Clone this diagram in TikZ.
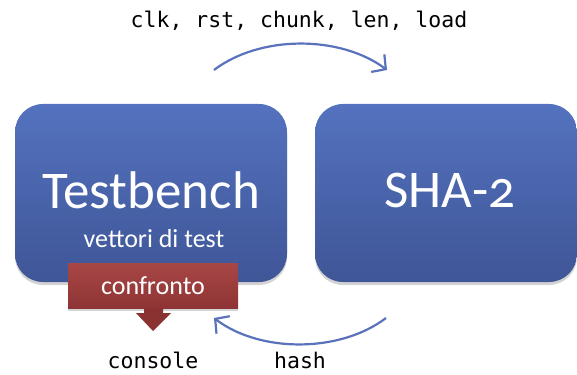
\documentclass[tikz,border=0pt]{standalone}
\usepackage{fontspec}
\setmainfont{Carlito}
\newfontfamily\codefont{DejaVu Sans Mono}
\usetikzlibrary{arrows.meta,shadows}
\definecolor{bluetop}{HTML}{5472BF}
\definecolor{bluebot}{HTML}{3F5697}
\definecolor{redtop}{HTML}{A94646}
\definecolor{redbot}{HTML}{8E3434}
\definecolor{redarrow}{HTML}{8A3131}
\definecolor{arrowblue}{HTML}{5A72BC}
\tikzset{
  block/.style={rounded corners=28pt, minimum width=272pt, minimum height=178pt,
    top color=bluetop, bottom color=bluebot, inner sep=0pt,
    drop shadow={shadow xshift=0pt, shadow yshift=-3pt, opacity=0.35}},
  redbox/.style={minimum width=170pt, minimum height=45pt, inner sep=0pt,
    top color=redtop, bottom color=redbot, text=white,
    drop shadow={shadow xshift=0pt, shadow yshift=-3pt, opacity=0.35}},
  bigtxt/.style={text=white, font=\fontsize{53}{60}\selectfont, anchor=base},
  smalltxt/.style={text=white, font=\fontsize{26}{30}\selectfont, anchor=base},
  codetxt/.style={font=\codefont\fontsize{21.5}{26}\selectfont, anchor=base},
  flow/.style={draw=arrowblue, line width=2.2pt, -{Straight Barb[length=10pt,width=22pt]}}
}
\begin{document}
\begin{tikzpicture}[x=1pt,y=-1pt]
\useasboundingbox (0,0) rectangle (577,374);
\node[block] (tb) at (151,193) {};
\node[block, minimum width=262pt] (sha) at (446,193) {};
\node[bigtxt] (tbt) at (151,208) {Testbench};
\node[smalltxt] (vt) at (154,247) {vettori di test};
\node[bigtxt] (shat) at (450,207) {SHA-{\addfontfeatures{Numbers=OldStyle}2}};
\node[redbox] (cf) at (153,285.5) {};
\node[smalltxt] (cft) at (153,294) {confronto};
\fill[redarrow] (144,308) -- (163,308) -- (163,313) -- (171,313) -- (153,331) -- (136,313) -- (144,313) -- cycle;
\node[codetxt] (sig) at (299,28) {clk, rst, chunk, len, load};
\node[codetxt] (con) at (153,368) {console};
\node[codetxt] (hash) at (300,368) {hash};
\coordinate (a1) at (214,70);
\coordinate (a2) at (387,70);
\coordinate (b1) at (386,318);
\coordinate (b2) at (214,318);
\draw[flow] (a1) .. controls (260,35) and (340,35) .. (a2);
\draw[flow] (b1) .. controls (340,353) and (260,353) .. (b2);
\end{tikzpicture}
\end{document}
